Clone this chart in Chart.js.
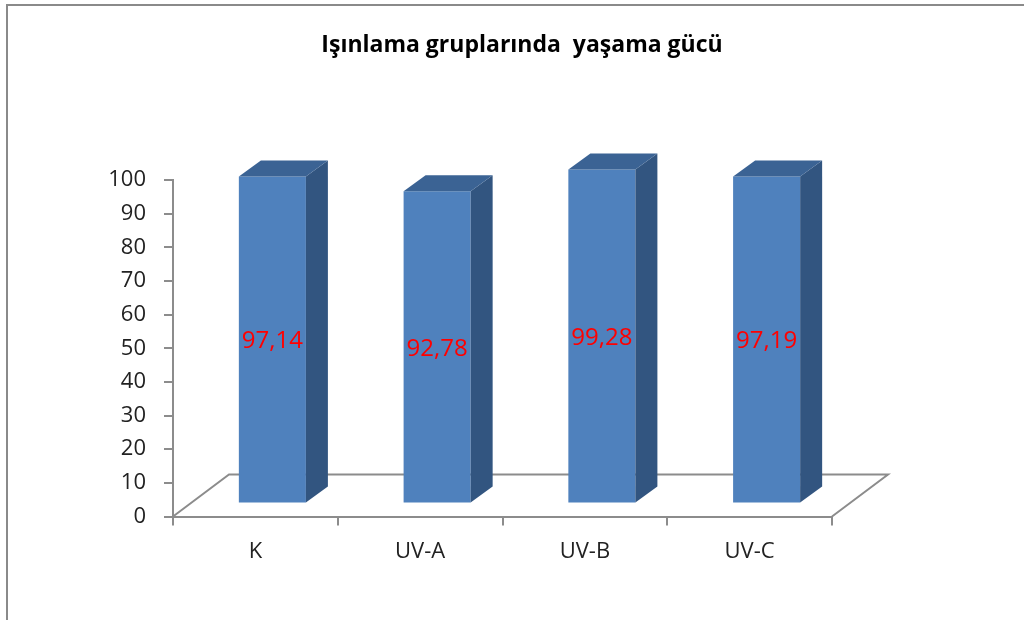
<!DOCTYPE html>
<html><head><meta charset="utf-8">
<script src="https://cdn.jsdelivr.net/npm/chart.js@4/dist/chart.umd.min.js"></script>
<style>
html,body{margin:0;padding:0;background:#fff;}
#wrap{position:relative;width:1024px;height:620px;overflow:hidden;background:#fff;}
#frame{position:absolute;left:6px;top:4px;width:1100px;height:700px;border-left:2px solid #8a8a8a;border-top:2px solid #8a8a8a;}
canvas{position:absolute;left:0;top:0;}
</style></head><body>
<div id="wrap"><div id="frame"></div><canvas id="c" width="1024" height="620"></canvas></div>
<script>
const chartTitle = 'Işınlama gruplarında  yaşama gücü';
const categories = ['K', 'UV-A', 'UV-B', 'UV-C'];
const values = [97.14, 92.78, 99.28, 97.19];
const valueLabels = ['97,14', '92,78', '99,28', '97,19'];
const yMin = 0, yMax = 100, yStep = 10;

const FRONT = '#4f81bd', SIDE = '#325580', TOP = '#3b6394';
const SHIFT = {x: 17, y: -13};   // bar position inside the floor depth
const DEPTH = {x: 22, y: -16};   // bar depth
const FLOOR = {x: 56, y: -42};   // floor depth

const bar3d = {
  id: 'bar3d',
  beforeDatasetsDraw(chart) {
    const ctx = chart.ctx, xs = chart.scales.x, ys = chart.scales.y;
    const y0 = ys.getPixelForValue(0);
    ctx.save();
    ctx.strokeStyle = '#8c8c8c'; ctx.lineWidth = 2;
    ctx.beginPath();
    ctx.moveTo(xs.left, y0);
    ctx.lineTo(xs.left + FLOOR.x, y0 + FLOOR.y);
    ctx.lineTo(xs.right + FLOOR.x, y0 + FLOOR.y);
    ctx.lineTo(xs.right, y0);
    ctx.stroke();
    ctx.restore();
    ctx.save();
    ctx.translate(SHIFT.x, SHIFT.y);
  },
  afterDatasetsDraw(chart) {
    const ctx = chart.ctx;
    const meta = chart.getDatasetMeta(0);
    meta.data.forEach((bar, i) => {
      const p = bar.getProps(['x', 'y', 'base', 'width'], true);
      const l = p.x - p.width / 2, r = p.x + p.width / 2;
      ctx.fillStyle = SIDE;
      ctx.beginPath();
      ctx.moveTo(r, p.y); ctx.lineTo(r + DEPTH.x, p.y + DEPTH.y);
      ctx.lineTo(r + DEPTH.x, p.base + DEPTH.y); ctx.lineTo(r, p.base);
      ctx.closePath(); ctx.fill();
      ctx.fillStyle = TOP;
      ctx.beginPath();
      ctx.moveTo(l, p.y); ctx.lineTo(l + DEPTH.x, p.y + DEPTH.y);
      ctx.lineTo(r + DEPTH.x, p.y + DEPTH.y); ctx.lineTo(r, p.y);
      ctx.closePath(); ctx.fill();
      ctx.fillStyle = '#ff0000';
      ctx.font = '24px "Open Sans"';
      ctx.textAlign = 'center'; ctx.textBaseline = 'middle';
      ctx.fillText(valueLabels[i], p.x, (p.y + p.base) / 2 + 2);
    });
    ctx.restore();
  },
  afterDraw(chart) {
    const ctx = chart.ctx;
    ctx.save();
    ctx.fillStyle = '#000';
    ctx.font = 'bold 23px "Open Sans"';
    ctx.textAlign = 'center'; ctx.textBaseline = 'middle';
    ctx.fillText(chartTitle, 522, 45);
    ctx.restore();
  }
};

new Chart(document.getElementById('c'), {
  type: 'bar',
  data: {
    labels: categories,
    datasets: [{
      data: values,
      backgroundColor: FRONT,
      borderWidth: 0,
      barPercentage: 0.407,
      categoryPercentage: 1,
      clip: false
    }]
  },
  options: {
    responsive: false,
    animation: false,
    layout: {padding: {left: 0, top: 180, right: 192, bottom: 43.5}},
    plugins: {legend: {display: false}, title: {display: false}, tooltip: {enabled: false}},
    scales: {
      x: {
        grid: {drawOnChartArea: false, tickLength: 9, tickColor: '#8c8c8c', lineWidth: 2},
        border: {display: true, color: '#8c8c8c', width: 2},
        ticks: {color: '#222', font: {family: 'Open Sans', size: 22}, padding: 13},
        afterFit(s) { s.height = 60; }
      },
      y: {
        min: yMin, max: yMax,
        grid: {drawOnChartArea: false, tickLength: 9, tickColor: '#8c8c8c', lineWidth: 2},
        border: {display: true, color: '#8c8c8c', width: 2},
        ticks: {stepSize: yStep, color: '#222', font: {family: 'Open Sans', size: 22}, padding: 18},
        afterFit(s) { s.width = 173; }
      }
    }
  },
  plugins: [bar3d]
});
</script>
</body></html>
